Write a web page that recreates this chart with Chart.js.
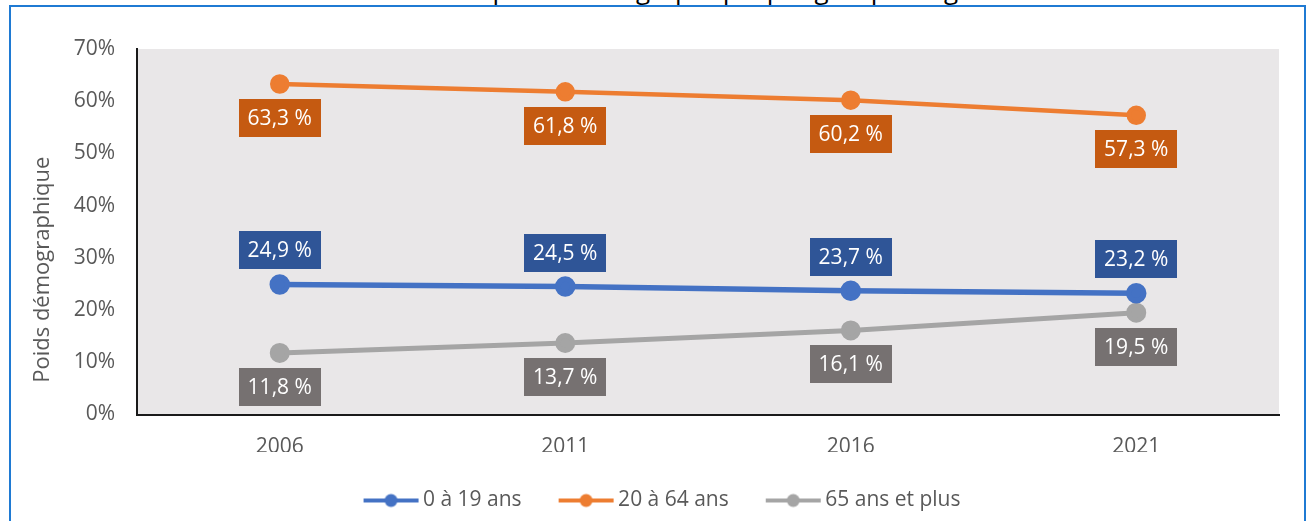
<!DOCTYPE html>
<html lang="fr">
<head>
<meta charset="utf-8">
<title>Poids démographique par groupe d'âge</title>
<script src="https://cdn.jsdelivr.net/npm/chart.js@4.4.1/dist/chart.umd.min.js"></script>
<style>
  html, body { margin: 0; padding: 0; background: #fff; overflow: hidden; }
  #title { position: absolute; top: -29px; left: 0; width: 1307px; line-height: 26px;
           text-align: center; font: 26px "Open Sans", sans-serif; color: #000; white-space: nowrap; }
  #frame { position: absolute; left: 9px; top: 5px; width: 1297px; height: 600px;
           border: 2px solid #1f7ad3; box-sizing: border-box; }
  canvas { position: absolute; left: 0; top: 0; }
</style>
</head>
<body>
<div id="title">Évolution du poids démographique par groupe d'âge</div>
<div id="frame"></div>
<canvas id="chart" width="1307" height="521"></canvas>
<script>
// data
const years = ['2006', '2011', '2016', '2021'];
const jeunes = [24.9, 24.5, 23.7, 23.2];     // 0 à 19 ans
const adultes = [63.3, 61.8, 60.2, 57.3];    // 20 à 64 ans
const aines = [11.8, 13.7, 16.1, 19.5];      // 65 ans et plus
const seriesNames = ['0 à 19 ans', '20 à 64 ans', '65 ans et plus'];
const yMax = 70;
const yStep = 10;

Chart.defaults.font.family = '"Open Sans", sans-serif';
Chart.defaults.font.size = 21;
Chart.defaults.color = '#595959';

// legend marker: short line with a dot in the middle
function legendMark(color) {
    const c = document.createElement('canvas');
    c.width = 62;
    c.height = 18;
    const g = c.getContext('2d');
    g.strokeStyle = color;
    g.lineWidth = 4;
    g.beginPath();
    g.moveTo(6, 9);
    g.lineTo(61, 9);
    g.stroke();
    g.fillStyle = color;
    g.beginPath();
    g.arc(33.5, 9, 6.5, 0, Math.PI * 2);
    g.fill();
    return c;
}

const plotBg = {
    id: 'plotBg',
    beforeDraw(chart) {
        const {ctx, chartArea: a} = chart;
        ctx.save();
        ctx.fillStyle = '#e9e7e8';
        ctx.fillRect(a.left, a.top, a.right - a.left, a.bottom - a.top);
        ctx.restore();
    }
};

// the boxed value labels above / below each point
const valueBoxes = {
    id: 'valueBoxes',
    afterDatasetsDraw(chart) {
        const ctx = chart.ctx;
        ctx.save();
        ctx.font = '21px "Open Sans", sans-serif';
        ctx.textAlign = 'center';
        ctx.textBaseline = 'middle';
        chart.data.datasets.forEach((ds, di) => {
            chart.getDatasetMeta(di).data.forEach((pt, i) => {
                const txt = ds.data[i].toFixed(1).replace('.', ',') + ' %';
                const cy = pt.y + ds.boxOffset;
                ctx.fillStyle = ds.boxColor;
                ctx.fillRect(Math.round(pt.x - 41), Math.round(cy - 19), 82, 38);
                ctx.fillStyle = '#ffffff';
                ctx.fillText(txt, pt.x, cy + 1);
            });
        });
        ctx.restore();
    }
};

const yTitle = {
    id: 'yTitle',
    afterDraw(chart) {
        const {ctx, chartArea: a} = chart;
        ctx.save();
        ctx.translate(43, (a.top + a.bottom) / 2 + 38);
        ctx.rotate(-Math.PI / 2);
        ctx.font = '22px "Open Sans", sans-serif';
        ctx.fillStyle = '#595959';
        ctx.textAlign = 'center';
        ctx.textBaseline = 'middle';
        ctx.fillText('Poids démographique', 0, 0);
        ctx.restore();
    }
};

const marks = [legendMark('#4472c4'), legendMark('#ed7d31'), legendMark('#a5a5a5')];

const chart = new Chart(document.getElementById('chart').getContext('2d'), {
    type: 'line',
    data: {
        labels: years,
        datasets: [
            {
                label: seriesNames[0],
                data: jeunes,
                borderColor: '#4472c4',
                backgroundColor: '#4472c4',
                borderWidth: 5.5,
                boxColor: '#2f5597',
                boxOffset: -34
            },
            {
                label: seriesNames[1],
                data: adultes,
                borderColor: '#ed7d31',
                backgroundColor: '#ed7d31',
                borderWidth: 4.5,
                boxColor: '#c55a11',
                boxOffset: 34
            },
            {
                label: seriesNames[2],
                data: aines,
                borderColor: '#a5a5a5',
                backgroundColor: '#a5a5a5',
                borderWidth: 5,
                boxColor: '#767171',
                boxOffset: 34
            }
        ]
    },
    options: {
        responsive: false,
        animation: false,
        events: [],
        elements: {
            line: { tension: 0 },
            point: { radius: 7.5, borderWidth: 0 }
        },
        layout: {
            padding: { left: 46, right: 28, top: 49, bottom: 0 }
        },
        plugins: {
            title: { display: false },
            tooltip: { enabled: false },
            legend: {
                position: 'bottom',
                maxHeight: 69.5,
                labels: {
                    usePointStyle: true,
                    pointStyleWidth: 48,
                    boxHeight: 21,
                    padding: 38,
                    color: '#595959',
                    font: { size: 21 },
                    generateLabels(chart) {
                        const items = Chart.defaults.plugins.legend.labels.generateLabels(chart);
                        items.forEach((it, i) => { it.pointStyle = marks[i]; });
                        return items;
                    }
                }
            }
        },
        scales: {
            x: {
                offset: true,
                grid: { display: false, drawTicks: false },
                border: { display: true, color: '#1a1a1a', width: 2 },
                ticks: { padding: 20, color: '#595959' },
                afterFit(scale) { scale.height = 37.5; }
            },
            y: {
                min: 0,
                max: yMax,
                grid: { display: false, drawTicks: false },
                border: { display: true, color: '#1a1a1a', width: 2 },
                ticks: {
                    stepSize: yStep,
                    padding: 22,
                    color: '#595959',
                    callback: v => v + '%'
                },
                afterFit(scale) { scale.width = 91; }
            }
        }
    },
    plugins: [plotBg, valueBoxes, yTitle]
});
</script>
</body>
</html>
